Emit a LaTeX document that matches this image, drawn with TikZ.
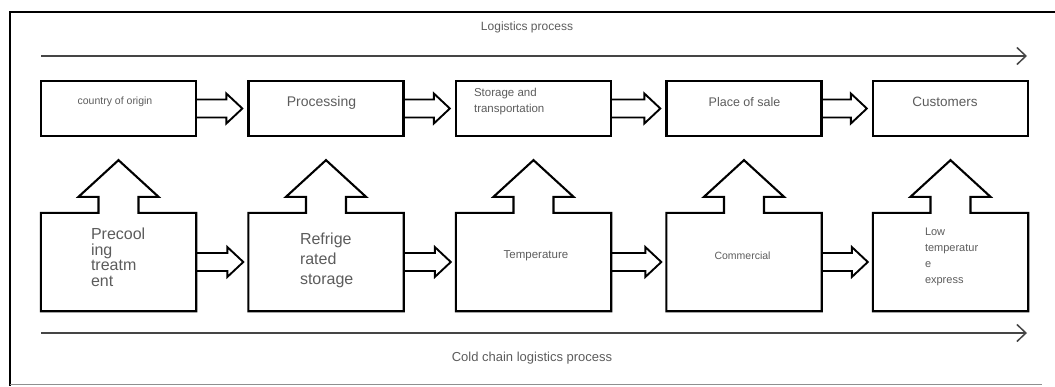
\documentclass[tikz,border=0pt]{standalone}
\usepackage{fontspec}
\setmainfont{Liberation Sans}
\usetikzlibrary{calc,arrows.meta}
\definecolor{labelgray}{HTML}{5C5C5C}
\definecolor{linegray}{HTML}{454545}
\tikzset{
  stagebox/.style={draw,line width=2.3pt,minimum width=155pt,minimum height=55pt,inner sep=0pt},
  coldbox/.style={minimum width=155pt,minimum height=98pt,inner sep=0pt},
  fat/.style={draw,line width=1.9pt,line join=miter},
  flow/.style={draw=linegray,line width=1.5pt,-{Straight Barb[length=9pt,width=17pt,line width=1.5pt]}},
  txt/.style={text=labelgray,inner sep=0pt,align=left},
}

\begin{document}
\begin{tikzpicture}[x=1pt,y=-1pt]
  \useasboundingbox (0,0) rectangle (1055,386);
  % frame
  \draw[line width=2.8pt] (1055,12) -- (10,12) -- (10,386);
  \draw[linegray!60,line width=1pt] (10,384) -- (1042,384);
  % boxes, top row and cold chain row
  \foreach \n/\x in {1/118.5,2/326,3/533.5,4/744,5/950.5}{
    \node[stagebox] (p\n) at (\x,108.5) {};
    \node[coldbox] (c\n) at (\x,262) {};
  }
  % cold chain boxes with their up arrows
  \foreach \n in {1,...,5}{
    \draw[line width=2.1pt,line join=miter] (c\n.north west) -- (c\n.south west) -- (c\n.south east) -- (c\n.north east)
      -- ($(c\n.north)+(20,0)$) -- ++(0,-16) -- ++(20,0) -- ($(p\n.south)+(0,23)$)
      -- ($(c\n.north)+(-40,-16)$) -- ++(20,0) -- ++(0,16) -- cycle;
  }
  % hollow arrows between neighbours
  \foreach \a/\b in {1/2,2/3,3/4,4/5}{
    \foreach \r in {p,c}{
      \draw[fat] ($(\r\a.east)+(0,-9)$) -| ($(\r\b.west)+(-21,-15)$) -- ($(\r\b.west)+(-5,0)$)
        -- ($(\r\b.west)+(-21,15)$) |- ($(\r\a.east)+(0,9)$);
    }
  }
  % process lines
  \coordinate (ltop0) at (41,56);
  \coordinate (ltop1) at (1027,56);
  \coordinate (lbot0) at (41,333);
  \coordinate (lbot1) at (1027,333);
  \draw[flow] (ltop0) -- (ltop1);
  \draw[flow] (lbot0) -- (lbot1);
  \node[txt,font=\fontsize{12}{14}\selectfont] (toplbl) at (527,27) {Logistics process};
  \node[txt,font=\fontsize{13}{15}\selectfont] (botlbl) at (532,358) {Cold chain logistics process};
  % labels, top row
  \node[txt,font=\fontsize{10.5}{12}\selectfont] (t1) at ($(p1)+(-3.5,-6.5)$) {country of origin};
  \node[txt,font=\fontsize{14}{16}\selectfont] (t2) at ($(p2)+(-4.5,-6)$) {Processing};
  \node[txt,font=\fontsize{11.5}{16}\selectfont,anchor=west] (t3) at ($(p3.west)+(19,-6.5)$) {Storage and\\transportation};
  \node[txt,font=\fontsize{12.5}{14}\selectfont] (t4) at ($(p4)+(0.5,-6.5)$) {Place of sale};
  \node[txt,font=\fontsize{13.5}{16}\selectfont] (t5) at ($(p5)+(-5.5,-6.5)$) {Customers};
  % labels, cold chain row
  \node[txt,font=\fontsize{16}{15.5}\selectfont,anchor=north west] (b1) at ($(c1.west)+(50,-34)$) {Precool\\ing\\treatm\\ent};
  \node[txt,font=\fontsize{16}{20}\selectfont,anchor=north west] (b2) at ($(c2.west)+(51.5,-29.5)$) {Refrige\\rated\\storage};
  \node[txt,font=\fontsize{11.5}{14}\selectfont] (b3) at ($(c3)+(2.5,-6)$) {Temperature};
  \node[txt,font=\fontsize{10.5}{14}\selectfont] (b4) at ($(c4)+(-1.5,-6)$) {Commercial};
  \node[txt,font=\fontsize{11}{16}\selectfont,anchor=north west] (b5) at ($(c5.west)+(52,-34)$) {Low\\temperatur\\e\\express};
\end{tikzpicture}
\end{document}
